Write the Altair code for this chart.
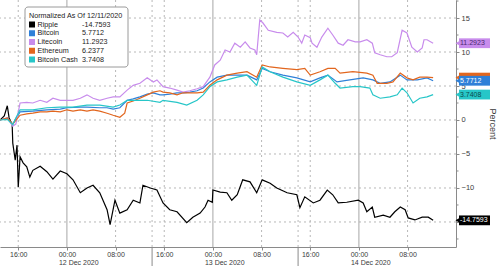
import altair as alt
import pandas as pd

# ---------------- data (hours since 2020-12-11 13:00) ----------------
series_names = ["Ripple", "Bitcoin", "Litecoin", "Ethereum", "Bitcoin Cash"]
series_colors = ["#000000", "#2f80d8", "#c88cec", "#e2661e", "#27c6c8"]
label_text_colors = ["#ffffff", "#ffffff", "#4b2a6e", "#ffffff", "#0c4a4c"]
last_values = ["-14.7593", "5.7712", "11.2923", "6.2377", "3.7408"]
legend_title = "Normalized As Of 12/11/2020"

ripple_h = [0, 0.7, 1.2, 1.5, 2.0, 2.1, 2.5, 2.8, 3.0, 3.3, 3.8, 4.4, 4.9, 5.4, 6.6, 7.7, 8.7, 9.9,
            11.0, 12.0, 13.2, 14.3, 15.3, 16.4, 17.6, 18.1, 18.9, 19.7, 20.9, 21.9, 23.0, 23.5,
            24.7, 25.8, 26.8, 27.9, 29.1, 30.7, 31.7, 32.9, 33.7, 34.2, 34.9, 35.0, 36.2, 37.3,
            38.1, 39.0, 39.9, 41.1, 42.2, 43.1, 44.4, 45.5, 47.2, 48.8, 49.3, 50.1, 51.5, 52.6,
            53.8, 54.7, 55.6, 57.0, 58.9, 59.7, 60.3, 61.2, 61.6, 63.0, 64.1, 64.9, 65.8, 66.6,
            67.1, 68.2, 69.4, 70.4, 71.2]
ripple_v = [0, 0.6, 2.1, 0.3, -0.7, -3.4, -5.9, -3.7, -9.9, -5.4, -6.3, -6.9, -8.4, -7.4, -6.8,
            -7.6, -8.7, -7.5, -7.9, -8.8, -10.7, -10.0, -9.6, -10.7, -13.2, -15.4, -11.8, -13.7,
            -13.2, -11.8, -12.2, -9.6, -10.0, -10.3, -12.2, -13.2, -13.5, -15.1, -14.3, -13.7,
            -12.8, -11.8, -12.1, -10.3, -10.6, -10.7, -11.8, -11.0, -8.8, -9.1, -10.7, -8.8, -9.3,
            -10.0, -10.7, -11.0, -12.9, -11.3, -12.2, -11.8, -10.3, -11.0, -12.2, -12.1, -11.8,
            -12.2, -13.5, -12.8, -14.3, -14.0, -14.3, -13.5, -12.8, -13.2, -14.4, -14.7, -14.3,
            -14.3, -14.7593]

litecoin_h = [0, 1.2, 2.1, 2.6, 3.3, 4.4, 5.4, 6.6, 7.7, 8.7, 9.9, 11.0, 12.0, 13.2, 14.3, 15.3,
              16.4, 17.6, 18.6, 19.7, 20.9, 21.9, 23.0, 24.2, 25.2, 25.8, 26.8, 27.9, 29.1, 30.1,
              31.2, 32.4, 33.4, 34.5, 35.3, 36.2, 37.0, 37.8, 38.6, 39.5, 40.3, 41.1, 41.9, 42.2,
              42.7, 43.2, 44.1, 45.5, 46.5, 47.3, 48.2, 49.0, 49.6, 50.1, 51.0, 51.3, 52.1, 52.9,
              53.9, 54.7, 55.6, 56.4, 57.2, 58.4, 59.2, 60.3, 61.2, 61.6, 62.5, 63.6, 64.4, 65.3,
              66.1, 66.9, 67.7, 68.6, 69.4, 69.7, 70.2, 71.2]
litecoin_v = [0, 0.3, -0.9, -0.6, 2.5, 2.6, 2.5, 2.9, 2.6, 3.2, 2.9, 2.9, 2.9, 3.2, 3.7, 3.2, 2.9,
              3.2, 3.4, 3.4, 4.4, 5.1, 5.4, 6.2, 5.6, 5.9, 4.9, 4.7, 4.4, 4.1, 4.3, 4.6, 4.9, 6.3,
              8.1, 8.8, 10.3, 10.0, 11.3, 10.7, 11.5, 10.6, 10.3, 9.6, 14.7, 14.3, 13.2, 12.9, 12.8,
              12.2, 12.9, 12.2, 11.3, 12.5, 12.1, 11.3, 10.7, 12.2, 13.5, 12.5, 11.3, 11.0, 11.8,
              11.5, 11.5, 11.8, 11.3, 9.9, 9.6, 9.3, 9.3, 9.9, 13.2, 12.8, 10.7, 10.0, 10.6, 11.8,
              11.8, 11.2923]

ethereum_h = [0, 1.2, 2.1, 3.3, 4.4, 5.4, 6.6, 7.7, 8.7, 9.9, 11.0, 12.0, 13.2, 14.3, 15.3, 16.4,
              17.6, 18.6, 19.7, 20.5, 20.9, 21.9, 23.0, 24.2, 25.2, 26.3, 26.8, 27.9, 29.1, 30.1,
              31.2, 32.4, 33.4, 34.5, 35.7, 37.3, 39.0, 40.6, 42.2, 43.1, 44.4, 46.5, 48.8, 50.1,
              51.0, 52.6, 53.9, 55.1, 55.9, 58.0, 60.3, 61.3, 62.0, 63.6, 64.6, 65.8, 66.9, 67.9,
              69.0, 70.2, 71.2]
ethereum_v = [0, 0.3, -0.6, 0.7, 0.9, 1.0, 1.2, 1.2, 1.3, 1.2, 1.5, 1.3, 1.5, 1.3, 1.5, 1.3, 1.0,
              0.7, 0.4, 1.0, 2.5, 2.8, 3.2, 3.7, 4.1, 4.3, 4.1, 4.0, 3.7, 4.0, 4.0, 4.0, 4.1, 5.1,
              5.9, 6.6, 6.9, 7.1, 6.3, 8.1, 7.8, 7.6, 7.4, 7.6, 6.6, 7.1, 7.6, 7.6, 6.9, 7.1, 6.9,
              6.6, 5.4, 5.4, 5.6, 6.9, 6.2, 5.9, 6.3, 6.3, 6.2377]

bitcoin_h = [0, 1.2, 2.1, 3.3, 5.4, 7.7, 9.9, 11.0, 13.2, 14.3, 16.4, 17.6, 18.6, 19.7, 20.9, 21.9,
             23.0, 24.2, 25.2, 26.3, 26.8, 27.9, 29.1, 30.1, 31.2, 32.4, 33.4, 34.5, 35.7, 37.3,
             39.0, 40.6, 42.2, 43.1, 44.4, 46.5, 48.8, 51.0, 52.6, 53.9, 55.4, 57.5, 59.7, 61.3,
             62.5, 64.1, 65.8, 66.9, 68.6, 70.2, 71.2]
bitcoin_v = [0, 0.3, -0.6, 1.2, 1.3, 1.5, 1.6, 1.8, 1.9, 1.9, 1.8, 1.8, 1.6, 1.8, 2.9, 3.1, 3.4,
             3.8, 4.0, 3.7, 3.7, 3.8, 4.0, 4.0, 4.1, 4.3, 4.7, 5.6, 6.3, 6.6, 6.6, 6.6, 5.9, 7.6,
             7.1, 6.6, 6.2, 5.6, 6.2, 6.6, 5.6, 5.9, 6.2, 5.9, 5.4, 5.6, 6.6, 5.9, 5.9, 6.2, 5.7712]

bcash_h = [0, 1.2, 2.1, 2.6, 3.3, 5.4, 7.7, 9.9, 12.0, 14.3, 16.4, 18.6, 19.7, 20.9, 21.9, 24.2,
           26.3, 26.8, 29.1, 30.7, 32.4, 33.4, 34.5, 35.7, 37.3, 39.0, 40.6, 42.2, 43.1, 44.4,
           46.5, 48.8, 51.0, 52.6, 53.9, 55.1, 55.9, 58.0, 59.2, 60.8, 61.3, 62.5, 64.1, 65.3,
           66.1, 66.9, 67.9, 69.0, 70.2, 71.2]
bcash_v = [0, 0.1, -0.7, 0.3, 1.5, 1.5, 1.8, 1.9, 1.9, 2.2, 2.2, 1.9, 2.2, 2.9, 2.9, 2.9, 2.6, 2.9,
           2.6, 2.2, 2.9, 3.7, 4.9, 5.6, 5.9, 6.3, 6.6, 5.1, 7.8, 7.1, 6.3, 5.6, 5.1, 5.9, 6.6,
           5.4, 4.7, 4.9, 4.9, 4.7, 3.7, 3.2, 3.4, 3.7, 4.7, 4.0, 2.5, 3.2, 3.4, 3.7408]

tick_hours = [3, 11, 19, 27, 35, 43, 51, 59, 67]
tick_labels = ["16:00", "00:00", "08:00", "16:00", "00:00", "08:00", "16:00", "00:00", "08:00"]
minor_tick_hours = [7, 15, 23, 31, 39, 47, 55, 63, 71]
date_hours = [11, 35, 59]
date_labels = ["12 Dec 2020", "13 Dec 2020", "14 Dec 2020"]
dotted_grid_hours = [3, 19, 25, 27, 43, 49, 51, 67]
solid_grid_hours = [11, 35, 59]
separator_hours = [25, 49]
y_grid_values = [-15, -10, -5, 0, 5, 10, 15]
y_minor_values = [-17.5, -12.5, -7.5, -2.5, 2.5, 7.5, 12.5, 17.5]

X_DOMAIN = [0, 74.96]
Y_DOMAIN = [-18.68, 17.65]
FONT = "Liberation Sans"
GRID = "#b8b8b8"
AXC = "#8a8a8a"
TXT = "#3a3a3a"

# ---------------- tables ----------------
hs = [ripple_h, bitcoin_h, litecoin_h, ethereum_h, bcash_h]
vs = [ripple_v, bitcoin_v, litecoin_v, ethereum_v, bcash_v]
rows = []
for name, h_list, v_list in zip(series_names, hs, vs):
    for h, v in zip(h_list, v_list):
        rows.append({"series": name, "h": h, "v": v})
lines_df = pd.DataFrame(rows)

color_scale = alt.Scale(domain=series_names, range=series_colors)
xs = alt.Scale(domain=X_DOMAIN, nice=False, zero=False)
ys = alt.Scale(domain=Y_DOMAIN, nice=False, zero=False)

x_label_expr = " : ".join(
    [f"datum.value == {h} ? '{t}'" for h, t in zip(tick_hours, tick_labels)]
) + " : ''"

x_axis = alt.Axis(
    values=sorted(tick_hours + minor_tick_hours), labelExpr=x_label_expr, title=None,
    grid=False, tickSize=3, tickColor=AXC, domainColor=AXC,
    labelColor=TXT, labelFontSize=7, labelFont=FONT, labelPadding=0,
    labelOverlap=False, labelFlush=False,
)
y_axis = alt.Axis(
    orient="right", values=y_grid_values, format="d",
    title="Percent", titleAngle=90, titleFontSize=9, titleFontWeight="normal",
    titleColor=TXT, titleFont=FONT, titlePadding=14,
    grid=False, tickSize=3, tickColor=AXC, domainColor=AXC,
    labelColor=TXT, labelFontSize=7.5, labelFont=FONT, labelPadding=2,
    labelOverlap=False, labelFlush=False,
)

hgrid = alt.Chart(pd.DataFrame({"v": y_grid_values})).mark_rule(
    color=GRID, strokeDash=[2, 3], strokeWidth=1
).encode(y=alt.Y("v:Q", scale=ys, axis=y_axis))

y_minor = alt.Chart(pd.DataFrame({"v": y_minor_values})).mark_rule(
    color=AXC, strokeWidth=1
).encode(y=alt.Y("v:Q", scale=ys), x=alt.value(456), x2=alt.value(458.5))

vgrid_dot = alt.Chart(pd.DataFrame({"h": dotted_grid_hours})).mark_rule(
    color=GRID, strokeDash=[2, 3], strokeWidth=1
).encode(x=alt.X("h:Q", scale=xs, axis=x_axis))

vgrid_solid = alt.Chart(pd.DataFrame({"h": solid_grid_hours})).mark_rule(
    color="#a6a6a6", strokeWidth=1
).encode(x=alt.X("h:Q", scale=xs))

separators = alt.Chart(pd.DataFrame({"h": separator_hours})).mark_rule(
    color="#8a8a8a", strokeWidth=1
).encode(x=alt.X("h:Q", scale=xs), y=alt.value(247), y2=alt.value(266))

lines = alt.Chart(lines_df).mark_line(strokeWidth=1.2, interpolate="linear").encode(
    x=alt.X("h:Q", scale=xs),
    y=alt.Y("v:Q", scale=ys),
    color=alt.Color("series:N", scale=color_scale, legend=None),
    detail="series:N",
    order=alt.Order("h:Q"),
)

date_text = alt.Chart(pd.DataFrame({"h": date_hours, "t": date_labels})).mark_text(
    fontSize=7, font=FONT, color=TXT, baseline="middle", align="left", dx=-8
).encode(x=alt.X("h:Q", scale=xs), y=alt.value(262.5), text="t:N")

# end-value tags (drawn one series at a time so later tags cover earlier ones);
# the Ethereum tag is mostly hidden under the Bitcoin tag, so its number is not visible
tag_order = ["Ripple", "Litecoin", "Ethereum", "Bitcoin", "Bitcoin Cash"]
tag_layers = []
for name in tag_order:
    i = series_names.index(name)
    val = float(last_values[i])
    df_tag = pd.DataFrame({"series": [name], "v": [val], "txt": [last_values[i]]})
    base_tag = alt.Chart(df_tag).transform_calculate(
        hi="datum.v + 0.72", lo="datum.v - 0.72"
    )
    tag_layers.append(
        base_tag.mark_rect().encode(
            x=alt.value(459), x2=alt.value(490),
            y=alt.Y("hi:Q", scale=ys), y2="lo:Q",
            color=alt.Color("series:N", scale=color_scale, legend=None),
        )
    )
    tag_layers.append(
        base_tag.mark_point(shape="triangle-left", filled=True, size=22, opacity=1).encode(
            x=alt.value(457.5), y=alt.Y("v:Q", scale=ys),
            color=alt.Color("series:N", scale=color_scale, legend=None),
        )
    )
    if name != "Ethereum":
        tag_layers.append(
            base_tag.mark_text(align="left", baseline="middle", fontSize=7, font=FONT,
                               color=label_text_colors[i]).encode(
                x=alt.value(460), y=alt.Y("v:Q", scale=ys), text="txt:N"
            )
        )

# ---------------- custom legend box (rows placed in pixels) ----------------
LF = 7.2
legend_layers = [
    alt.Chart(pd.DataFrame({"a": [0]})).mark_rect(
        fill="white", stroke="#9a9a9a", strokeWidth=1, cornerRadius=3
    ).encode(x=alt.value(25), x2=alt.value(128), y=alt.value(7), y2=alt.value(67)),
    alt.Chart(pd.DataFrame({"t": [legend_title]})).mark_text(
        align="left", baseline="middle", fontSize=LF, font=FONT, color="#222222"
    ).encode(x=alt.value(29), y=alt.value(15.5), text="t:N"),
]
for i, (name, val) in enumerate(zip(series_names, last_values)):
    row_y = 24.5 + i * 8.75
    row = pd.DataFrame({"series": [name], "val": [val]})
    legend_layers.append(
        alt.Chart(row).mark_square(size=36, opacity=1, filled=True).encode(
            x=alt.value(32), y=alt.value(row_y),
            color=alt.Color("series:N", scale=color_scale, legend=None),
        )
    )
    legend_layers.append(
        alt.Chart(row).mark_text(
            align="left", baseline="middle", fontSize=LF, font=FONT, color="#222222"
        ).encode(x=alt.value(37.5), y=alt.value(row_y), text="series:N")
    )
    legend_layers.append(
        alt.Chart(row).mark_text(
            align="left", baseline="middle", fontSize=LF, font=FONT, color="#222222"
        ).encode(x=alt.value(82), y=alt.value(row_y), text="val:N")
    )

chart = alt.layer(
    hgrid, y_minor, vgrid_dot, vgrid_solid, separators, lines, date_text,
    *tag_layers, *legend_layers
).properties(
    width=456, height=247,
    autosize=alt.AutoSizeParams(type="none"),
    padding={"left": 0, "top": 0, "right": 44, "bottom": 19},
    background="white",
).configure_view(stroke=None)

chart.save("out.html", embed_options={"renderer": "svg", "actions": False})
